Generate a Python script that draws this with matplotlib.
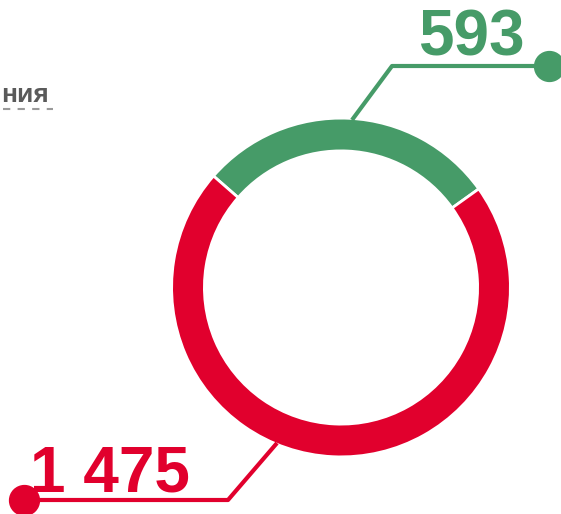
"""Donut chart: two categories with leader-line callouts."""

import matplotlib

matplotlib.use("Agg")
import matplotlib.pyplot as plt

# data
labels = ["593", "1 475"]
values = [593, 1475]
colors = ["#469B68", "#E1002D"]
caption = "ния"

W, H = 561, 514

fig = plt.figure(figsize=(W / 100, H / 100), dpi=100)
ax = fig.add_axes([0, 0, 1, 1])

plt.rcParams["font.family"] = ["Liberation Sans", "DejaVu Sans"]

# ring: outer radius 168 px, 30 px thick, white gaps drawn by the wedge edges
cx, cy = 341, 226.5
edge = 2.0
edge_px = edge * 100 / 72
ax.pie(
    values,
    colors=colors,
    startangle=35.6,
    counterclock=True,
    center=(cx, cy),
    radius=168 + edge_px / 2,
    wedgeprops=dict(width=30 + edge_px, edgecolor="white", linewidth=edge),
    frame=True,
)
ax.set_xlim(0, W)
ax.set_ylim(0, H)
ax.set_aspect("equal")
ax.axis("off")

# leader lines with end dots
ax.plot([352, 392, 549], [394, 448, 448], color=colors[0], lw=3, solid_capstyle="butt")
ax.plot([549], [448], "o", color=colors[0], ms=21.5)
ax.plot([277, 228, 24], [71, 14, 14], color=colors[1], lw=3, solid_capstyle="butt")
ax.plot([24], [14], "o", color=colors[1], ms=21.5)

ax.text(525, 459, labels[0], color=colors[0], fontsize=46, fontweight="bold",
        ha="right", va="baseline")
ax.text(30, 22, labels[1], color=colors[1], fontsize=46, fontweight="bold",
        ha="left", va="baseline")

# caption at the left edge with a dashed underline
ax.text(1, 412, caption, color="#5A5A5A", fontsize=19, fontweight="bold",
        ha="left", va="baseline")
ax.plot([3, 53], [405, 405], color="#9A9A9A", lw=1.5, dashes=(3.5, 3.5))

fig.savefig("out.png", dpi=100)
